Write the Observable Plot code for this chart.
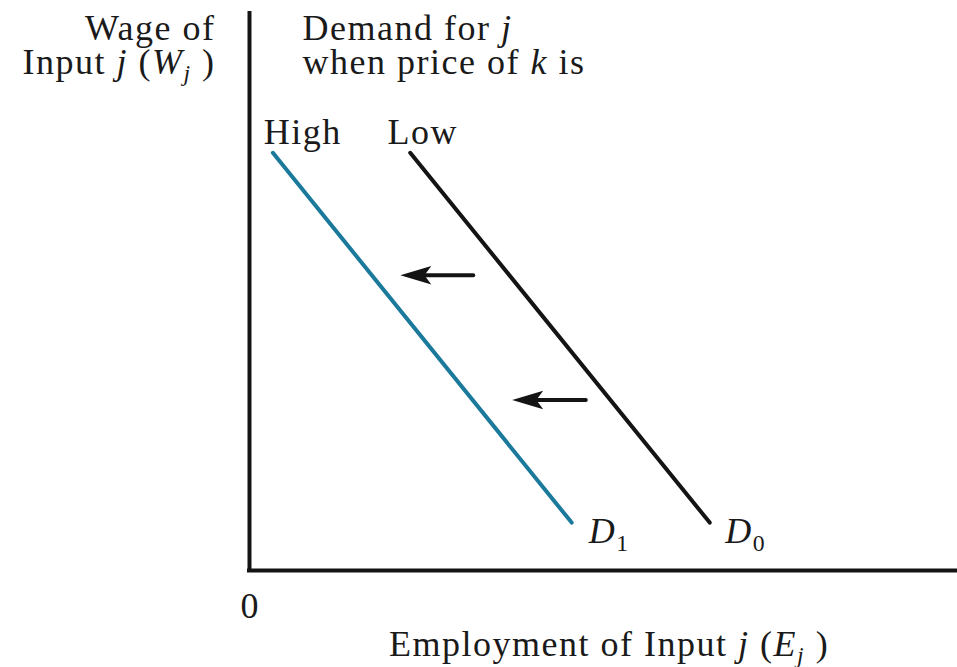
<!DOCTYPE html>
<html><head><meta charset="utf-8">
<script src="https://cdn.jsdelivr.net/npm/d3@7"></script>
<script src="https://cdn.jsdelivr.net/npm/@observablehq/plot@0.6"></script>
<style>body{margin:0;background:#fff}</style>
</head><body><div id="chart"></div>
<script>
// Demand curves (data units: x = employment 0..100, y = wage 0..100)
const curveNames = ["D1", "D0"];
const curveColors = ["#1b7a9b", "#141414"];
const curveStartX = [3.3, 22.7];
const curveStartY = [75.0, 75.0];
const curveEndX = [45.5, 65.0];
const curveEndY = [8.6, 8.6];

// Shift arrows (from D0 towards D1)
const shiftFromX = [31.6, 47.5];
const shiftToX = [21.3, 37.1];
const shiftY = [53.0, 30.6];

// Labels: *x* = italic, _{x} = subscript, \n = new line
const labelTexts = ["Wage of\nInput *j* (*W*_{*j*} )", "Demand for *j*\nwhen price of *k* is",
  "High", "Low", "*D*_{1}", "*D*_{0}", "0", "Employment of Input *j* (*E*_{*j*} )"];
const labelX = [-4.8, 7.5, 2.0, 19.5, 47.9, 67.2, 0.1, 50.8];
const labelY = [95.3, 95.3, 76.5, 76.5, 4.85, 4.85, -8.6, -15.3];
const labelAnchor = ["end", "start", "start", "start", "start", "start", "middle", "middle"];

const FS = 36;
const LH = 34;

function parseRich(s) {
  const parts = [];
  const re = /_\{(\*?)([^}*]+)\*?\}|\*([^*]+)\*|([^*_]+)/g;
  let m;
  while ((m = re.exec(s))) {
    if (m[2] !== undefined) parts.push({t: m[2], i: m[1] === "*", sub: true});
    else if (m[3] !== undefined) parts.push({t: m[3], i: true, sub: false});
    else parts.push({t: m[4], i: false, sub: false});
  }
  return parts;
}
const plain = s => s.split("\n").map(line => parseRich(line).map(p => p.t).join("")).join(" ");

const curves = curveNames.map((n, i) => ({name: n, color: curveColors[i], x1: curveStartX[i], y1: curveStartY[i], x2: curveEndX[i], y2: curveEndY[i]}));
const shifts = shiftY.map((y, i) => ({x1: shiftFromX[i], x2: shiftToX[i], y}));
const labels = labelTexts.map((t, i) => ({rich: t, text: plain(t), x: labelX[i], y: labelY[i], anchor: labelAnchor[i]}));

const arrowHead = {
  draw(context, size) {
    const r = Math.sqrt(size / Math.PI);
    const L = r, W = r * 0.3;
    context.moveTo(0, 0);
    context.lineTo(L, -W);
    context.lineTo(L * 0.78, 0);
    context.lineTo(L, W);
    context.closePath();
  }
};

const textMarks = ["start", "middle", "end"].map(a =>
  Plot.text(labels, {filter: d => d.anchor === a, x: "x", y: "y", text: "text", textAnchor: a, lineAnchor: "bottom", fill: "#1a1a1a", fontSize: FS})
);

const plot = Plot.plot({
  width: 957, height: 667,
  marginLeft: 249, marginRight: 0, marginTop: 13, marginBottom: 97,
  x: {domain: [0, 100], axis: null},
  y: {domain: [0, 100], axis: null},
  style: {fontFamily: "'Liberation Serif', 'Times New Roman', serif", background: "#fff", overflow: "visible"},
  marks: [
    Plot.link(curves, {x1: "x1", y1: "y1", x2: "x2", y2: "y2", stroke: d => d.color, strokeWidth: 4, strokeLinecap: "round"}),
    Plot.arrow(shifts, {x1: "x1", y1: "y", x2: "x2", y2: "y", stroke: "#141414", strokeWidth: 4, headLength: 0, insetEnd: 18}),
    Plot.dot(shifts, {x: "x2", y: "y", symbol: arrowHead, r: 31, fill: "#141414", stroke: "none"}),
    Plot.ruleX([0], {y1: 0, y2: 100, stroke: "#141414", strokeWidth: 4, strokeLinecap: "square"}),
    Plot.ruleY([0], {x1: 0, x2: 100, stroke: "#141414", strokeWidth: 4, strokeLinecap: "square"}),
    ...textMarks
  ]
});

// Rebuild labels with line breaks, italic and subscript parts
d3.select(plot).selectAll("text").each(function() {
  const el = d3.select(this);
  const lab = labels.find(l => l.text === el.text());
  if (!lab) return;
  const x0 = el.attr("x") || 0;
  el.text("").style("letter-spacing", "1.5px");
  lab.rich.split("\n").forEach((line, li) => {
    let shifted = false;
    parseRich(line).forEach((p, pi) => {
      const ts = el.append("tspan").text(p.t);
      let dy = 0;
      if (li > 0 && pi === 0) { ts.attr("x", x0); dy += LH; }
      if (p.i) ts.attr("font-style", "italic");
      if (p.sub) {
        ts.attr("font-size", FS * 0.66);
        dy += FS * 0.2;
        shifted = true;
      } else if (shifted) {
        dy -= FS * 0.2;
        shifted = false;
      }
      if (dy) ts.attr("dy", dy);
    });
  });
});

document.getElementById("chart").append(plot);
</script>
</body></html>
